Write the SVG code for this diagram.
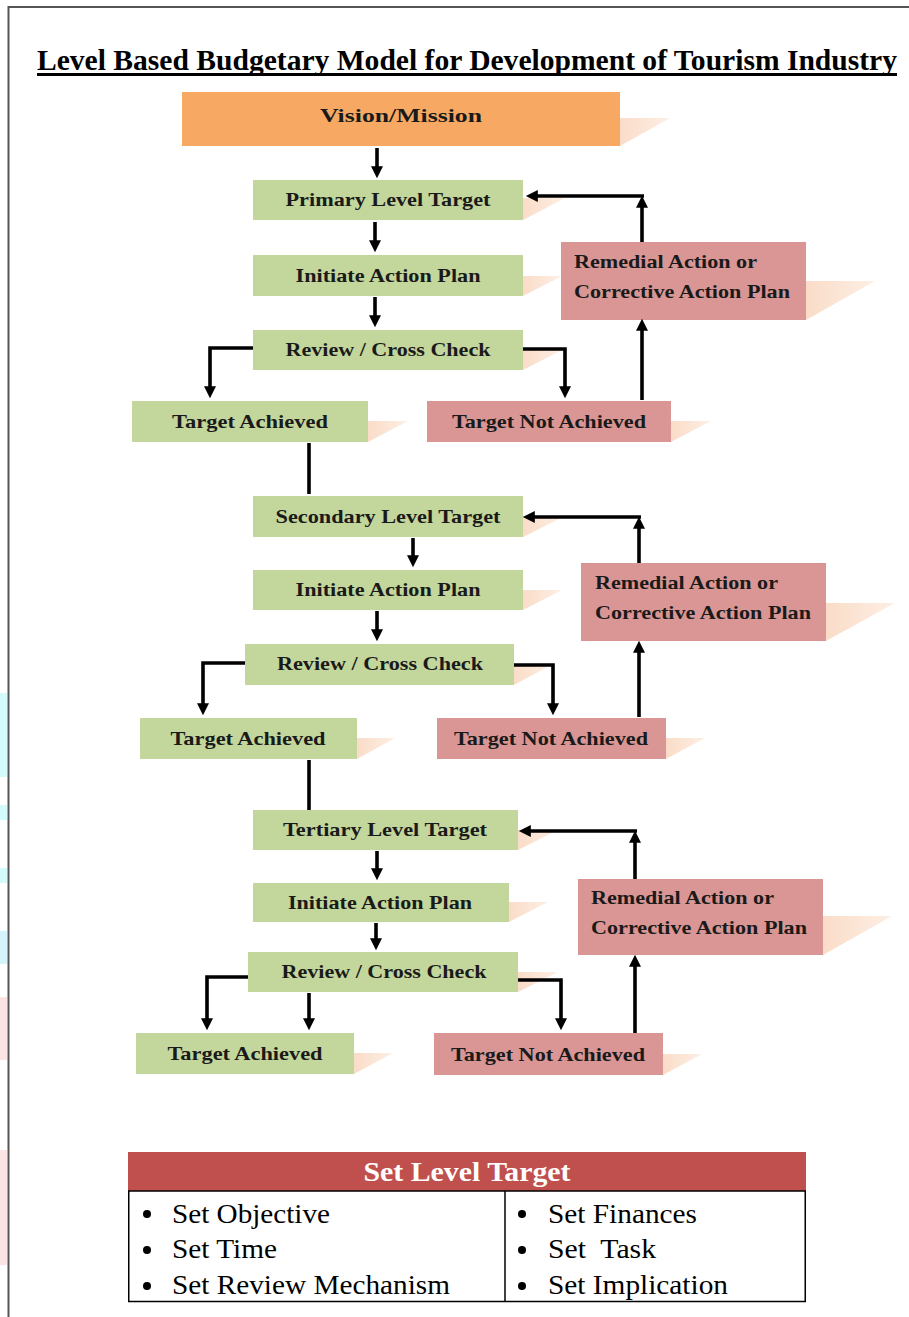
<svg xmlns="http://www.w3.org/2000/svg" width="909" height="1317" viewBox="0 0 909 1317">
<defs>
<style>
.g{fill:#C3D69B}
.p{fill:#D99694}
.o{fill:#F7A963}
.sh{fill:url(#shg)}
.t{font-family:"Liberation Serif","Times New Roman",serif;font-weight:bold;font-size:19px;fill:#1a1a1a;text-anchor:middle}
.tl{font-family:"Liberation Serif","Times New Roman",serif;font-weight:bold;font-size:19px;fill:#1a1a1a}
.c{fill:none;stroke:#000;stroke-width:3.6;marker-end:url(#ah)}
.cn{fill:none;stroke:#000;stroke-width:3.6}
.tb{font-family:"Liberation Serif","Times New Roman",serif;font-size:28px;fill:#000;white-space:pre}
</style>
<linearGradient id="shg" x1="0" y1="0" x2="1" y2="0">
<stop offset="0" stop-color="#FADCC8"/>
<stop offset="1" stop-color="#FDEFE4"/>
</linearGradient>
<marker id="ah" viewBox="0 0 10 10" refX="4" refY="5" markerWidth="13" markerHeight="12" markerUnits="userSpaceOnUse" orient="auto">
<path d="M0,0 L10,5 L0,10 z" fill="#000"/>
</marker>
</defs>
<rect width="909" height="1317" fill="#fff"/>
<g id="edge-artifacts">
<rect x="0" y="693" width="7" height="84" fill="#D4FBFB"/>
<rect x="0" y="805" width="7" height="15" fill="#D4FBFB"/>
<rect x="0" y="868" width="7" height="15" fill="#D4FBFB"/>
<rect x="0" y="931" width="7" height="33" fill="#D4F3FA"/>
<rect x="0" y="997" width="7" height="63" fill="#FDE4E4"/>
<rect x="0" y="1150" width="7" height="115" fill="#FDE4E4"/>
</g>
<g id="frame">
<line x1="8" y1="7" x2="909" y2="7" stroke="#555" stroke-width="2"/>
<line x1="8.5" y1="6" x2="8.5" y2="1317" stroke="#555" stroke-width="2"/>
</g>
<g id="title">
<text x="467" y="70" text-anchor="middle" font-family="Liberation Serif, Times New Roman, serif" font-weight="bold" font-size="30" fill="#000" textLength="860" lengthAdjust="spacingAndGlyphs">Level Based Budgetary Model for Development of Tourism Industry</text>
<line x1="37" y1="74.5" x2="897" y2="74.5" stroke="#000" stroke-width="3"/>
</g>

<g id="vision">
<polygon class="sh" points="620,118 670,118 620,146"/>
<rect class="o" x="182" y="92" width="438" height="54"/>
<text class="t" x="401" y="122" font-size="24" textLength="162" lengthAdjust="spacingAndGlyphs">Vision/Mission</text>
</g>

<!-- Level 1 -->
<g id="primary">
<polygon class="sh" points="523,198 565,198 523,220"/>
<rect class="g" x="253" y="180" width="270" height="40"/>
<text class="t" x="388" y="206" textLength="205" lengthAdjust="spacingAndGlyphs">Primary Level Target</text>
</g>
<g id="initiate1">
<polygon class="sh" points="523,276 562,276 523,296"/>
<rect class="g" x="253" y="255" width="270" height="41"/>
<text class="t" x="388" y="282" textLength="185" lengthAdjust="spacingAndGlyphs">Initiate Action Plan</text>
</g>
<g id="review1">
<polygon class="sh" points="523,350 562,350 523,370"/>
<rect class="g" x="253" y="330" width="270" height="40"/>
<text class="t" x="388" y="356" textLength="205" lengthAdjust="spacingAndGlyphs">Review / Cross Check</text>
</g>
<g id="achieved1">
<polygon class="sh" points="368,421 408,421 368,442"/>
<rect class="g" x="132" y="401" width="236" height="41"/>
<text class="t" x="250" y="428" textLength="156" lengthAdjust="spacingAndGlyphs">Target Achieved</text>
</g>
<g id="notachieved1">
<polygon class="sh" points="671,421 711,421 671,442"/>
<rect class="p" x="427" y="401" width="244" height="41"/>
<text class="t" x="549" y="428" textLength="194" lengthAdjust="spacingAndGlyphs">Target Not Achieved</text>
</g>
<g id="remedial1">
<polygon class="sh" points="806,281 875,281 806,320"/>
<rect class="p" x="561" y="242" width="245" height="78"/>
<text class="tl" x="574" y="268" textLength="183" lengthAdjust="spacingAndGlyphs">Remedial Action or</text>
<text class="tl" x="574" y="298" textLength="216" lengthAdjust="spacingAndGlyphs">Corrective Action Plan</text>
</g>

<!-- Level 2 -->
<g id="secondary">
<polygon class="sh" points="523,516 565,516 523,537"/>
<rect class="g" x="253" y="496" width="270" height="41"/>
<text class="t" x="388" y="523" textLength="225" lengthAdjust="spacingAndGlyphs">Secondary Level Target</text>
</g>
<g id="initiate2">
<polygon class="sh" points="523,590 562,590 523,610"/>
<rect class="g" x="253" y="570" width="270" height="40"/>
<text class="t" x="388" y="596" textLength="185" lengthAdjust="spacingAndGlyphs">Initiate Action Plan</text>
</g>
<g id="review2">
<polygon class="sh" points="514,664 553,664 514,685"/>
<rect class="g" x="245" y="644" width="269" height="41"/>
<text class="t" x="380" y="670" textLength="206" lengthAdjust="spacingAndGlyphs">Review / Cross Check</text>
</g>
<g id="achieved2">
<polygon class="sh" points="357,738 395,738 357,759"/>
<rect class="g" x="140" y="718" width="217" height="41"/>
<text class="t" x="248" y="745" textLength="155" lengthAdjust="spacingAndGlyphs">Target Achieved</text>
</g>
<g id="notachieved2">
<polygon class="sh" points="666,738 705,738 666,759"/>
<rect class="p" x="437" y="718" width="229" height="41"/>
<text class="t" x="551" y="745" textLength="194" lengthAdjust="spacingAndGlyphs">Target Not Achieved</text>
</g>
<g id="remedial2">
<polygon class="sh" points="826,603 895,603 826,641"/>
<rect class="p" x="581" y="563" width="245" height="78"/>
<text class="tl" x="595" y="589" textLength="183" lengthAdjust="spacingAndGlyphs">Remedial Action or</text>
<text class="tl" x="595" y="619" textLength="216" lengthAdjust="spacingAndGlyphs">Corrective Action Plan</text>
</g>

<!-- Level 3 -->
<g id="tertiary">
<polygon class="sh" points="518,830 558,830 518,850"/>
<rect class="g" x="253" y="810" width="265" height="40"/>
<text class="t" x="385" y="836" textLength="204" lengthAdjust="spacingAndGlyphs">Tertiary Level Target</text>
</g>
<g id="initiate3">
<polygon class="sh" points="509,902 548,902 509,922"/>
<rect class="g" x="253" y="883" width="256" height="39"/>
<text class="t" x="380" y="909" textLength="184" lengthAdjust="spacingAndGlyphs">Initiate Action Plan</text>
</g>
<g id="review3">
<polygon class="sh" points="518,972 558,972 518,992"/>
<rect class="g" x="248" y="952" width="270" height="40"/>
<text class="t" x="384" y="978" textLength="205" lengthAdjust="spacingAndGlyphs">Review / Cross Check</text>
</g>
<g id="achieved3">
<polygon class="sh" points="354,1053 393,1053 354,1074"/>
<rect class="g" x="136" y="1033" width="218" height="41"/>
<text class="t" x="245" y="1060" textLength="155" lengthAdjust="spacingAndGlyphs">Target Achieved</text>
</g>
<g id="notachieved3">
<polygon class="sh" points="663,1054 702,1054 663,1075"/>
<rect class="p" x="434" y="1033" width="229" height="42"/>
<text class="t" x="548" y="1061" textLength="194" lengthAdjust="spacingAndGlyphs">Target Not Achieved</text>
</g>
<g id="remedial3">
<polygon class="sh" points="823,916 892,916 823,955"/>
<rect class="p" x="578" y="879" width="245" height="76"/>
<text class="tl" x="591" y="904" textLength="183" lengthAdjust="spacingAndGlyphs">Remedial Action or</text>
<text class="tl" x="591" y="934" textLength="216" lengthAdjust="spacingAndGlyphs">Corrective Action Plan</text>
</g>

<g id="connectors">
<!-- level 1 -->
<path class="c" d="M377,148 L377,171"/>
<path class="c" d="M375,222 L375,245"/>
<path class="c" d="M375,297 L375,320"/>
<path class="c" d="M253,348 L210,348 L210,391"/>
<path class="c" d="M523,349 L565,349 L565,391"/>
<path class="cn" d="M309,443 L309,494"/>
<path class="c" d="M642,400 L642,326"/>
<path class="c" d="M642,242 L642,203"/>
<path class="c" d="M644,196 L533,196"/>
<!-- level 2 -->
<path class="c" d="M413,538 L413,560"/>
<path class="c" d="M377,611 L377,634"/>
<path class="c" d="M245,663 L203,663 L203,708"/>
<path class="c" d="M514,665 L553,665 L553,708"/>
<path class="cn" d="M309,760 L309,810"/>
<path class="c" d="M639,717 L639,648"/>
<path class="c" d="M639,563 L639,524"/>
<path class="c" d="M641,517 L530,517"/>
<!-- level 3 -->
<path class="c" d="M377,851 L377,873"/>
<path class="c" d="M376,923 L376,943"/>
<path class="c" d="M248,977 L207,977 L207,1023"/>
<path class="c" d="M309,993 L309,1023"/>
<path class="c" d="M518,980 L561,980 L561,1023"/>
<path class="c" d="M635,1033 L635,962"/>
<path class="c" d="M635,879 L635,838"/>
<path class="c" d="M637,831 L526,831"/>
</g>

<g id="set-level-target">
<rect x="128" y="1152" width="678" height="39" fill="#C0504D"/>
<text x="467" y="1181" font-family="Liberation Serif, Times New Roman, serif" font-weight="bold" font-size="28" fill="#fff" text-anchor="middle" textLength="207" lengthAdjust="spacingAndGlyphs">Set Level Target</text>
<rect x="128.75" y="1191" width="676.5" height="110.5" fill="none" stroke="#000" stroke-width="1.5"/>
<line x1="505" y1="1191" x2="505" y2="1302" stroke="#000" stroke-width="1.5"/>
<circle cx="147" cy="1214" r="4" fill="#000"/>
<circle cx="147" cy="1250" r="4" fill="#000"/>
<circle cx="147" cy="1286" r="4" fill="#000"/>
<circle cx="522" cy="1214" r="4" fill="#000"/>
<circle cx="522" cy="1250" r="4" fill="#000"/>
<circle cx="522" cy="1286" r="4" fill="#000"/>
<text class="tb" x="172" y="1223" textLength="158" lengthAdjust="spacingAndGlyphs">Set Objective</text>
<text class="tb" x="172" y="1258" textLength="105" lengthAdjust="spacingAndGlyphs">Set Time</text>
<text class="tb" x="172" y="1294" textLength="278" lengthAdjust="spacingAndGlyphs">Set Review Mechanism</text>
<text class="tb" x="548" y="1223" textLength="149" lengthAdjust="spacingAndGlyphs">Set Finances</text>
<text class="tb" x="548" y="1258" xml:space="preserve" textLength="108" lengthAdjust="spacingAndGlyphs">Set  Task</text>
<text class="tb" x="548" y="1294" textLength="180" lengthAdjust="spacingAndGlyphs">Set Implication</text>
</g>
</svg>
